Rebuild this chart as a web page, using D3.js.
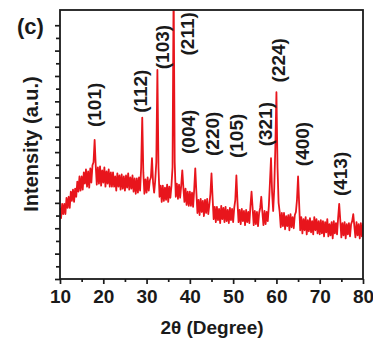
<!DOCTYPE html>
<html>
<head>
<meta charset="utf-8">
<script src="https://cdn.jsdelivr.net/npm/d3@7"></script>
<style>
  html, body { margin: 0; padding: 0; background: #fff; }
  svg { display: block; }
  text { font-family: "Liberation Sans", Arial, sans-serif; font-weight: bold; fill: #1a1a1a; }
</style>
</head>
<body>
<svg id="chart" width="373" height="341"></svg>
<script>
// ---- data ----
const angleStart = 10;      // 2θ of first sample (degrees)
const angleStep = 0.25;     // sampling step (degrees)
const intensity = [
  140,120,148,128, 148,128,160,140, 162,140,172,154, 176,152,178,162,
  192,172,202,174, 202,176,210,188, 216,182,212,180, 218,190,224,230,
  274,224,186,220, 188,222,184,214, 190,220,182,212, 188,216,182,210,
  182,210,182,202, 174,208,182,204, 176,206,178,202, 174,204,180,208,
  176,200,178,204, 172,198,168,198, 170,200,174,220, 318,210,168,196,
  170,200,174,194, 200,238,190,170, 194,230,412,220, 162,184,152,184,
  154,180,156,186, 152,182,160,184, 220,580,230,162, 188,158,186,160,
  184,214,180,152, 178,146,172,144, 172,144,170,142, 176,218,172,130,
  156,126,158,132, 154,124,156,130, 158,128,146,168, 208,160,118,142,
  112,142,116,138, 110,144,118,140, 112,142,114,136, 110,140,116,138,
  112,140,156,204, 152,112,136,108, 138,114,134,106, 136,112,132,110,
  144,172,140,106, 134,108,132,104, 130,140,162,132, 106,134,108,132,
  114,144,190,238, 170,134,180,260, 368,220,150,132, 102,130,104,130,
   98,124,104,126,  96,128,102,122, 100,126,132,156, 202,148, 96,122,
   90,118, 96,122,  88,116, 94,120,  92,114, 88,122,  96,118, 90,114,
   88,116, 90,114,  84,112, 92,118,  84,108, 86,112,  80,114, 90,110,
   88,120,148,116,  82,110, 86,112,  80,108, 88,110,  84,108,114,128,
  104, 82,112, 86, 108, 80,110, 84,
  110
];
const peakLabels = ["(101)","(112)","(103)","(211)","(004)","(220)","(105)","(321)","(224)","(400)","(413)"];
const labelAngle = [17.9, 28.5, 33.6, 39.3, 39.6, 45.1, 50.7, 57.4, 60.4, 65.9, 74.7];
const labelLevel = [343, 370, 457, 483, 290, 286, 282, 305, 431, 266, 207];
const xMajorTicks = [10, 20, 30, 40, 50, 60, 70, 80];
const xMinorTicks = [15, 25, 35, 45, 55, 65, 75];
const yMajorTicks = [0, 50, 100, 150, 200, 250, 300, 350, 400, 450, 500];
const yMinorTicks = [25, 75, 125, 175, 225, 275, 325, 375, 425, 475];
const xTitle = "2θ (Degree)";
const yTitle = "Intensity (a.u.)";
const panelLabel = "(c)";

// ---- layout ----
const svg = d3.select("#chart");
const L = 60, R = 363, T = 10, B = 279;
const x = d3.scaleLinear().domain([10, 80]).range([L, R]);
const y = d3.scaleLinear().domain([0, 530]).range([B, T]);

const points = intensity.map((v, i) => [angleStart + i * angleStep, v]);

svg.append("clipPath").attr("id", "clip")
  .append("rect").attr("x", L).attr("y", T).attr("width", R - L).attr("height", B - T);

svg.append("path")
  .datum(points)
  .attr("clip-path", "url(#clip)")
  .attr("fill", "none")
  .attr("stroke", "#e8151c")
  .attr("stroke-width", 1.8)
  .attr("stroke-linejoin", "round")
  .attr("d", d3.line().x(d => x(d[0])).y(d => y(d[1])));

// axes
const axisStyle = g => {
  g.select(".domain").remove();
  g.selectAll(".tick line").attr("stroke", "#1a1a1a").attr("stroke-width", 1.7);
};
svg.append("g").attr("transform", `translate(0,${B})`)
  .call(d3.axisBottom(x).tickValues(xMajorTicks).tickSize(5).tickSizeOuter(0).tickPadding(6).tickFormat(d3.format("d")))
  .call(axisStyle)
  .call(g => g.selectAll("text").style("font-size", "19px").attr("fill", "#1a1a1a"));
svg.append("g").attr("transform", `translate(0,${B})`)
  .call(d3.axisBottom(x).tickValues(xMinorTicks).tickSize(3).tickFormat(""))
  .call(axisStyle);
svg.append("g").attr("transform", `translate(${L},0)`)
  .call(d3.axisLeft(y).tickValues(yMajorTicks).tickSize(5).tickFormat(""))
  .call(axisStyle);
svg.append("g").attr("transform", `translate(${L},0)`)
  .call(d3.axisLeft(y).tickValues(yMinorTicks).tickSize(4).tickFormat(""))
  .call(axisStyle);

// frame
svg.append("rect").attr("x", L).attr("y", T).attr("width", R - L).attr("height", B - T)
  .attr("fill", "none").attr("stroke", "#1a1a1a").attr("stroke-width", 1.8);

// peak labels
svg.append("g").selectAll("text").data(peakLabels).join("text")
  .attr("transform", (d, i) => `translate(${x(labelAngle[i])},${y(labelLevel[i])}) rotate(-90)`)
  .attr("text-anchor", "middle")
  .attr("dy", "0.36em")
  .style("font-size", "19px")
  .text(d => d);

// titles
svg.append("text").attr("x", 212).attr("y", 334).attr("text-anchor", "middle")
  .style("font-size", "19px").text(xTitle);
svg.append("text").attr("transform", "translate(38,144) rotate(-90)").attr("text-anchor", "middle")
  .style("font-size", "20px").text(yTitle);
svg.append("text").attr("x", 17).attr("y", 34).style("font-size", "22px").text(panelLabel);
</script>
</body>
</html>
